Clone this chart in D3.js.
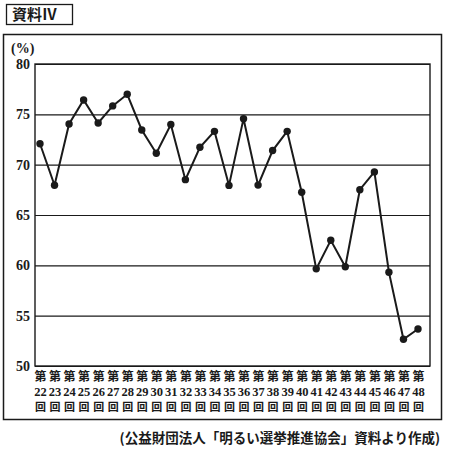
<!DOCTYPE html>
<html><head><meta charset="utf-8">
<script src="https://cdn.jsdelivr.net/npm/d3@7"></script>
<style>
html,body{margin:0;padding:0;background:#fff;}
svg{display:block;}
</style></head>
<body>
<svg id="c" width="449" height="460"></svg>
<script>
const elections = [22,23,24,25,26,27,28,29,30,31,32,33,34,35,36,37,38,39,40,41,42,43,44,45,46,47,48];
const turnout = [72.08,67.95,74.04,76.43,74.14,75.84,76.99,73.45,71.14,73.99,68.51,71.73,73.31,67.94,74.57,67.97,71.40,73.31,67.26,59.65,62.49,59.86,67.51,69.28,59.32,52.66,53.68];
const yTicks = [50,55,60,65,70,75,80];
const title = "資料Ⅳ";
const unitLabel = "(%)";
const source = "(公益財団法人「明るい選挙推進協会」資料より作成)";

(function(){
const svg = d3.select("#c");
const ink = "#1a1a1a";
const cjk = "'Noto Sans CJK JP','Noto Sans CJK SC',sans-serif";
const serif = "'Liberation Serif','DejaVu Serif',serif";

// title box
svg.append("rect").attr("x",6.5).attr("y",4.5).attr("width",66).attr("height",20)
  .attr("fill","none").attr("stroke",ink).attr("stroke-width",1.3);
svg.append("text").attr("x",12).attr("y",20).attr("font-family",cjk).attr("font-size",15)
  .attr("font-weight","bold").attr("fill",ink).text(title);

// outer frame
svg.append("rect").attr("x",3.5).attr("y",34.5).attr("width",438).attr("height",385)
  .attr("fill","none").attr("stroke",ink).attr("stroke-width",1.5);

const pL = 35, pR = 430, pT = 64, pB = 366;
const x = d3.scalePoint().domain(elections).range([40, 418]);
const y = d3.scaleLinear().domain([50,80]).range([pB, pT]);

// gridlines
const yAxis = d3.axisLeft(y).tickValues(yTicks).tickSize(-(pR-pL)).tickFormat(d=>d).tickPadding(6);
const gy = svg.append("g").attr("transform",`translate(${pL},0)`).call(yAxis);
gy.select(".domain").remove();
gy.selectAll(".tick line").attr("stroke",ink).attr("stroke-width",1.2);
gy.selectAll(".tick text").attr("font-family",serif).attr("font-weight","bold")
  .attr("font-size",14).attr("fill",ink).attr("x",-5);

// plot frame
svg.append("rect").attr("x",pL).attr("y",pT).attr("width",pR-pL).attr("height",pB-pT)
  .attr("fill","none").attr("stroke",ink).attr("stroke-width",1.4);

svg.append("text").attr("x",11).attr("y",53).attr("font-family",serif).attr("font-weight","bold")
  .attr("font-size",14).attr("fill",ink).text(unitLabel);

// x labels: three stacked rows (第 / number / 回)
const xAxis = d3.axisBottom(x).tickSize(0).tickFormat("");
const gx = svg.append("g").attr("transform",`translate(0,${pB})`).call(xAxis);
gx.select(".domain").remove();
gx.selectAll(".tick").each(function(d){
  const g = d3.select(this);
  g.append("text").attr("text-anchor","middle").attr("fill",ink).attr("y",15.2)
    .attr("font-family",cjk).attr("font-size",12).attr("font-weight","bold").text("第");
  g.append("text").attr("text-anchor","middle").attr("fill",ink).attr("y",29.6)
    .attr("font-family",serif).attr("font-size",12.5).attr("font-weight","bold").text(d);
  g.append("text").attr("text-anchor","middle").attr("fill",ink).attr("y",45.2)
    .attr("font-family",cjk).attr("font-size",11).attr("font-weight","bold").text("回");
});

// line + markers
const data = elections.map((e,i)=>({e, v:turnout[i]}));
svg.append("path").datum(data)
  .attr("d", d3.line().x(d=>x(d.e)).y(d=>y(d.v)))
  .attr("fill","none").attr("stroke",ink).attr("stroke-width",2).attr("stroke-linejoin","miter");
svg.append("g").selectAll("circle").data(data).join("circle")
  .attr("cx",d=>x(d.e)).attr("cy",d=>y(d.v)).attr("r",3.7).attr("fill",ink);

// source
svg.append("text").attr("x",440).attr("y",443).attr("text-anchor","end").attr("font-family",cjk)
  .attr("font-size",13.5).attr("font-weight","bold").attr("fill",ink).text(source);
})();
</script>
</body></html>
